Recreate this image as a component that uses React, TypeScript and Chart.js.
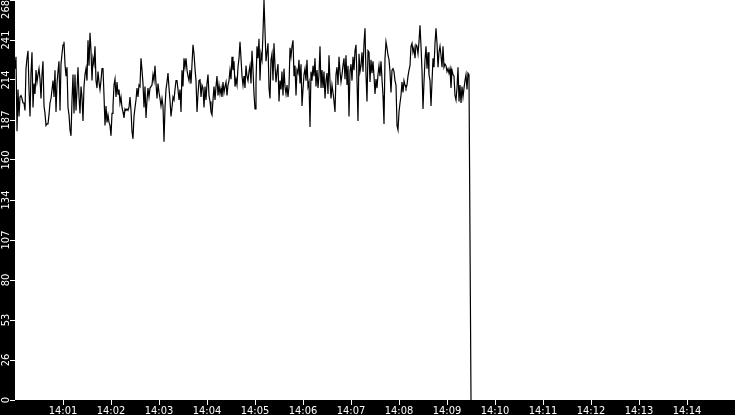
import React, { useEffect, useRef } from 'react';
import { Chart, registerables } from 'chart.js';
Chart.register(...registerables);

// one reading every 1.25 s starting at 14:00:00
const SAMPLE_SECONDS = 1.25;
const AXIS_SECONDS = 900;

const minuteLabels = ['14:01', '14:02', '14:03', '14:04', '14:05', '14:06', '14:07',
    '14:08', '14:09', '14:10', '14:11', '14:12', '14:13', '14:14'];

const yMax = 268;
const yTickCount = 11;

// 14:00:00 - 14:04:50
const readingsA = [
    222, 230, 180, 208, 190, 203, 204, 202, 199, 199,
    194, 222, 229, 234, 208, 190, 219, 233, 196, 212,
    205, 221, 213, 218, 222, 215, 202, 218, 227, 197,
    192, 184, 185, 185, 191, 199, 202, 208, 214, 203,
    221, 193, 212, 220, 227, 194, 225, 232, 238, 240,
    225, 217, 223, 196, 191, 181, 177, 201, 218, 192,
    218, 194, 208, 223, 203, 192, 210, 203, 187, 210,
    218, 222, 214, 241, 224, 246, 234, 214, 229, 225,
    237, 214, 209, 220, 213, 208, 214, 222, 222, 204,
    184, 197, 186, 191, 186, 184, 177, 192, 197, 211,
    215, 203, 213, 205, 208, 199, 203, 196, 193, 189,
    195, 194, 195, 194, 196, 203, 194, 180, 175, 190,
    196, 201, 209, 203, 211, 210, 229, 221, 212, 196,
    210, 189, 201, 209, 203, 209, 210, 211, 218, 214,
    224, 212, 202, 212, 206, 202, 197, 202, 197, 173,
    196, 208, 213, 219, 209, 201, 190, 196, 203, 201,
    208, 214, 214, 208, 201, 208, 193, 221, 210, 229,
    223, 229, 221, 217, 214, 221, 212, 225, 238, 232,
    222, 214, 193, 205, 214, 215, 203, 211, 209, 196,
    210, 201, 212, 218, 204, 200, 193, 191, 201, 210,
    201, 210, 217, 204, 211, 205, 209, 203, 213, 206,
    210, 213, 204, 211, 214, 221, 215, 230, 221, 227,
    210, 215, 211, 223, 229, 240, 229, 217, 211, 217,
    209, 224, 217, 214, 220,
];

// 14:04:53 - 14:09:28
const readingsB = [
    224, 212, 234, 221, 205, 195, 213, 237, 229, 242,
    214, 232, 228, 246, 268, 247, 227, 233, 239, 209,
    202, 228, 232, 214, 239, 224, 213, 220, 225, 200,
    214, 208, 220, 204, 222, 210, 205, 211, 203, 210,
    236, 230, 237, 241, 217, 224, 204, 221, 219, 228,
    212, 225, 197, 208, 218, 222, 214, 228, 210, 213,
    183, 220, 214, 224, 217, 229, 210, 221, 209, 218,
    237, 209, 221, 209, 220, 202, 214, 219, 205, 231,
    213, 202, 211, 206, 200, 193, 218, 223, 211, 230,
    220, 213, 218, 224, 229, 215, 231, 211, 224, 190,
    220, 225, 214, 230, 221, 234, 238, 214, 187, 232,
    220, 224, 233, 220, 239, 249, 218, 200, 234, 233,
    213, 228, 219, 227, 217, 205, 215, 209, 218, 224,
    217, 227, 215, 204, 185, 229, 240, 236, 231, 228,
    220, 206, 221, 222, 220, 214, 211, 184, 181, 193,
    199, 204, 213, 206, 214, 211, 209, 211, 217, 221,
    224, 237, 239, 233, 236, 229, 238, 237, 232, 240,
    251, 237, 221, 195, 213, 228, 237, 222, 233, 218,
    214, 197, 213, 229, 223, 239, 249, 239, 223, 233,
    237, 231, 223, 237, 223, 225, 224, 220, 222, 219,
    222, 209, 221, 218, 217, 204, 201, 209, 223, 200,
    211, 199, 210, 203, 209, 214, 218, 208, 219, 218,
];

// feed stops
const readingsTail = [108, 0];

const FONT_FAMILY = "'DejaVu Sans Condensed', 'Liberation Sans', sans-serif";
const FONT = { family: FONT_FAMILY, size: 11 };
const FIG_SPACE = '\u2007';

const yLabel = (v: number) => {
    const label = String(Math.floor(v + 1e-6));
    // pad the top label so it sits inside the canvas, below its tick
    return v >= yMax - 1e-6 ? label + FIG_SPACE.repeat(label.length) : label;
};

const backdrop = {
    id: 'backdrop',
    beforeDraw(chart: any) {
        const { ctx, chartArea: a, width, height } = chart;
        ctx.save();
        ctx.fillStyle = '#000';
        ctx.fillRect(0, 0, width, height);
        ctx.fillStyle = '#fff';
        ctx.fillRect(a.left, a.top, a.right - a.left, a.bottom - a.top);
        ctx.restore();
    }
};

const App: React.FC = () => {
    const chartRef = useRef<HTMLCanvasElement>(null);
    const chartInstance = useRef<Chart | null>(null);

    useEffect(() => {
        if (!chartRef.current) return;
        const ctx = chartRef.current.getContext('2d');
        if (!ctx) return;
        if (chartInstance.current) chartInstance.current.destroy();

        const readings = [...readingsA, ...readingsB, ...readingsTail];
        const points = readings.map((v, i) => ({ x: i * SAMPLE_SECONDS, y: v }));

        // chart.js centres rotated y labels by the widest label; work the padding out from that
        ctx.save();
        ctx.font = `11px ${FONT_FAMILY}`;
        let widest = 0;
        for (let i = 0; i < yTickCount; i++) {
            widest = Math.max(widest, ctx.measureText(yLabel(yMax * i / (yTickCount - 1))).width);
        }
        ctx.restore();
        const axisWidth = 15;
        const tickLen = 5;
        const labelCentre = 6.3;
        const yPad = axisWidth - tickLen - labelCentre - widest / 2;

        chartInstance.current = new Chart(ctx, {
            type: 'line',
            data: {
                datasets: [{
                    data: points,
                    borderColor: '#000',
                    borderWidth: 1.2,
                    pointRadius: 0,
                    tension: 0,
                    fill: false
                }]
            },
            options: {
                animation: false,
                responsive: false,
                layout: { padding: 0 },
                plugins: { legend: { display: false }, tooltip: { enabled: false } },
                scales: {
                    x: {
                        type: 'linear',
                        min: 0,
                        max: AXIS_SECONDS,
                        afterBuildTicks: (s: any) => {
                            s.ticks = s.ticks.filter((t: any) => t.value > 0 && t.value < AXIS_SECONDS);
                        },
                        afterFit: (s: any) => { s.height = 15; s.paddingLeft = 0; s.paddingRight = 0; },
                        border: { display: false },
                        grid: { drawOnChartArea: false, tickLength: 5, tickColor: '#fff' },
                        ticks: {
                            stepSize: 60,
                            autoSkip: false,
                            maxRotation: 0,
                            padding: 0,
                            color: '#fff',
                            font: FONT,
                            callback: (v: any) => minuteLabels[Math.round(v / 60) - 1] ?? ''
                        }
                    },
                    y: {
                        min: 0,
                        max: yMax,
                        afterFit: (s: any) => { s.width = axisWidth; s.paddingTop = 0; s.paddingBottom = 0; },
                        border: { display: false },
                        grid: { drawOnChartArea: false, tickLength: tickLen, tickColor: '#fff' },
                        ticks: {
                            count: yTickCount,
                            autoSkip: false,
                            minRotation: 90,
                            maxRotation: 90,
                            crossAlign: 'center',
                            padding: yPad,
                            color: '#fff',
                            font: FONT,
                            callback: (v: any) => yLabel(Number(v))
                        }
                    }
                }
            },
            plugins: [backdrop]
        });

        return () => {
            if (chartInstance.current) {
                chartInstance.current.destroy();
                chartInstance.current = null;
            }
        };
    }, []);

    return (
        <div style={{ position: 'fixed', left: 0, top: 0, width: 735, height: 415 }}>
            <canvas ref={chartRef} width={735} height={415}></canvas>
        </div>
    );
};

export default App;
